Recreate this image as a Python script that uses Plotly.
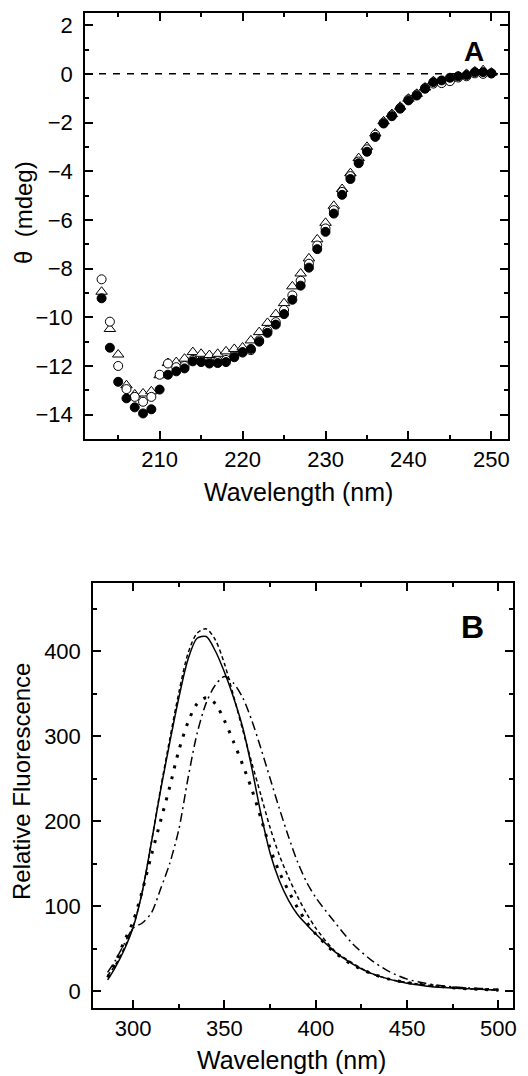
import plotly.graph_objects as go

# ---------------- Panel A data (CD spectra) ----------------
wl_a = list(range(203, 251))
filled_circles = [-9.22, -11.25, -12.65, -13.33, -13.7, -13.95, -13.78, -12.97, -12.36, -12.22,
                  -12.1, -11.81, -11.84, -11.9, -11.88, -11.84, -11.64, -11.43, -11.3, -11.0,
                  -10.64, -10.3, -9.87, -9.28, -8.7, -7.96, -7.2, -6.49, -5.74, -4.97,
                  -4.32, -3.67, -3.2, -2.59, -2.04, -1.74, -1.43, -1.09, -0.89, -0.61,
                  -0.34, -0.27, -0.16, -0.1, -0.05, 0.07, 0.07, 0.02]
open_circles = [-8.44, -10.18, -12.0, -12.95, -13.27, -13.47, -13.27, -12.36, -11.9, -12.05,
                -12.0, -11.75, -11.8, -11.85, -11.8, -11.75, -11.6, -11.45, -11.35, -10.95,
                -10.55, -10.2, -9.7, -9.1, -8.5, -7.8, -7.05, -6.35, -5.6, -4.85,
                -4.2, -3.6, -3.1, -2.5, -2.0, -1.7, -1.4, -1.05, -0.85, -0.58,
                -0.4, -0.38, -0.3, -0.15, -0.1, 0.02, 0.0, 0.02]
open_triangles = [-8.95, -10.48, -11.53, -12.79, -13.17, -13.13, -13.04, -12.38, -11.88, -11.84,
                  -11.7, -11.43, -11.5, -11.55, -11.5, -11.4, -11.3, -11.24, -10.95, -10.61,
                  -10.23, -9.87, -9.42, -8.73, -8.2, -7.58, -6.8, -6.12, -5.42, -4.73,
                  -4.08, -3.46, -3.0, -2.45, -1.95, -1.65, -1.35, -1.02, -0.82, -0.56,
                  -0.3, -0.3, -0.2, -0.1, 0.0, 0.1, 0.15, 0.05]

# ---------------- Panel B data (fluorescence spectra) ----------------
wl_b = [286, 290, 295, 300, 305, 310, 315, 320, 325, 330, 335, 340, 345, 350, 355, 360, 365,
        370, 375, 380, 385, 390, 395, 400, 410, 420, 430, 440, 450, 460, 470, 480, 490, 500]
solid_curve = [13, 27, 48, 75, 117, 175, 236, 292, 345, 390, 415, 417, 400, 375, 345, 310, 262,
               208, 162, 130, 107, 90, 78, 67, 47, 32, 21, 14, 9, 6, 4, 3, 2, 1]
dashed_curve = [18, 30, 50, 76, 117, 175, 238, 296, 351, 397, 421, 426, 413, 385, 347, 307, 268,
                230, 192, 160, 134, 111, 91, 74, 48, 33, 21, 14, 10, 7, 5, 3, 2, 1]
dotted_curve = [16, 32, 58, 82, 118, 160, 200, 240, 283, 316, 338, 345, 338, 318, 293, 266, 237,
                203, 168, 140, 118, 98, 81, 67, 46, 31, 21, 14, 10, 7, 5, 3, 2, 1]
dashdot_curve = [22, 35, 55, 74, 80, 92, 120, 150, 190, 250, 303, 339, 360, 370, 362, 345, 318,
                 285, 250, 215, 182, 152, 128, 110, 82, 56, 37, 23, 14, 9, 6, 4, 3, 2]

# The page body adds an 8 px margin; the figure is sized/positioned to compensate.
PAGE_W, PAGE_H, OFF = 528, 1076, 8
W, H = PAGE_W - OFF, PAGE_H - OFF
FONT = "Arial, Liberation Sans, Helvetica, sans-serif"


def px_x(p):
    return (p - OFF) / W


def px_y(p):
    return 1 - (p - OFF) / H


fig = go.Figure()

# Panel A traces
fig.add_trace(go.Scatter(x=wl_a, y=open_triangles, mode="markers", xaxis="x", yaxis="y",
                         marker=dict(symbol="triangle-up", size=10, color="white",
                                     line=dict(color="black", width=1)), showlegend=False))
fig.add_trace(go.Scatter(x=wl_a, y=open_circles, mode="markers", xaxis="x", yaxis="y",
                         marker=dict(symbol="circle", size=9, color="white",
                                     line=dict(color="black", width=1)), showlegend=False))
fig.add_trace(go.Scatter(x=wl_a, y=filled_circles, mode="markers", xaxis="x", yaxis="y",
                         marker=dict(symbol="circle", size=9, color="black",
                                     line=dict(color="black", width=1)), showlegend=False))

# Panel B traces
fig.add_trace(go.Scatter(x=wl_b, y=dashdot_curve, mode="lines", xaxis="x2", yaxis="y2",
                         line=dict(color="black", width=1.5, dash="9px,4px,2px,4px", shape="spline",
                                   smoothing=0.8),
                         showlegend=False))
fig.add_trace(go.Scatter(x=wl_b, y=dotted_curve, mode="lines", xaxis="x2", yaxis="y2",
                         line=dict(color="black", width=3, dash="3px,8px", shape="spline",
                                   smoothing=0.8),
                         showlegend=False))
fig.add_trace(go.Scatter(x=wl_b, y=dashed_curve, mode="lines", xaxis="x2", yaxis="y2",
                         line=dict(color="black", width=1.5, dash="4px,3px", shape="spline",
                                   smoothing=0.8),
                         showlegend=False))
fig.add_trace(go.Scatter(x=wl_b, y=solid_curve, mode="lines", xaxis="x2", yaxis="y2",
                         line=dict(color="black", width=1.5, shape="spline", smoothing=0.8),
                         showlegend=False))


def ax(**kw):
    d = dict(showline=True, linecolor="black", linewidth=1.5, mirror="allticks",
             ticks="inside", ticklen=8, tickwidth=1.5, tickcolor="black",
             showgrid=False, zeroline=False, automargin=False,
             tickfont=dict(family=FONT, size=22, color="black"))
    d.update(kw)
    return d


minor_kw = dict(ticks="inside", ticklen=4, tickwidth=1.5, tickcolor="black")

fig.update_layout(
    width=W, height=H,
    margin=dict(l=0, r=0, t=0, b=0),
    paper_bgcolor="white", plot_bgcolor="white",
    font=dict(family=FONT, color="black"),
    xaxis=ax(domain=[px_x(85), px_x(508)], range=[201, 252], tick0=200, dtick=10,
             minor=dict(dtick=5, **minor_kw), anchor="y", ticklabelstandoff=0),
    yaxis=ax(domain=[px_y(439), px_y(13)], range=[-15, 2.5], tick0=0, dtick=2,
             minor=dict(dtick=1, **minor_kw), anchor="x", ticklabelstandoff=6),
    xaxis2=ax(domain=[px_x(93), px_x(513)], range=[278, 508], tick0=300, dtick=50,
              minor=dict(dtick=25, **minor_kw), anchor="y2", ticklabelstandoff=0),
    yaxis2=ax(domain=[px_y(1008), px_y(583)], range=[-20, 480], tick0=0, dtick=100,
              minor=dict(dtick=50, **minor_kw), anchor="x2", ticklabelstandoff=6),
)

# zero line in panel A
fig.add_shape(type="line", xref="x", yref="y", x0=201, x1=252, y0=0, y1=0,
              line=dict(color="black", width=1.5, dash="7px,7px"))

# Axis titles and panel labels (positions in page pixels)
ann = [
    ("Wavelength (nm)", 298, 492, 0, 25),
    ("θ  (mdeg)", 24, 213, -90, 24),
    ("Wavelength (nm)", 291, 1060, 0, 25),
    ("Relative Fluorescence", 21, 782, -90, 24),
    ("<b>A</b>", 474, 52, 0, 28),
    ("<b>B</b>", 472, 627, 0, 32),
]
for text, x, y, ang, size in ann:
    fig.add_annotation(xref="paper", yref="paper", showarrow=False,
                       xanchor="center", yanchor="middle",
                       font=dict(family=FONT, color="black", size=size),
                       text=text, x=px_x(x), y=px_y(y), textangle=ang)

fig.write_html("out.html")
